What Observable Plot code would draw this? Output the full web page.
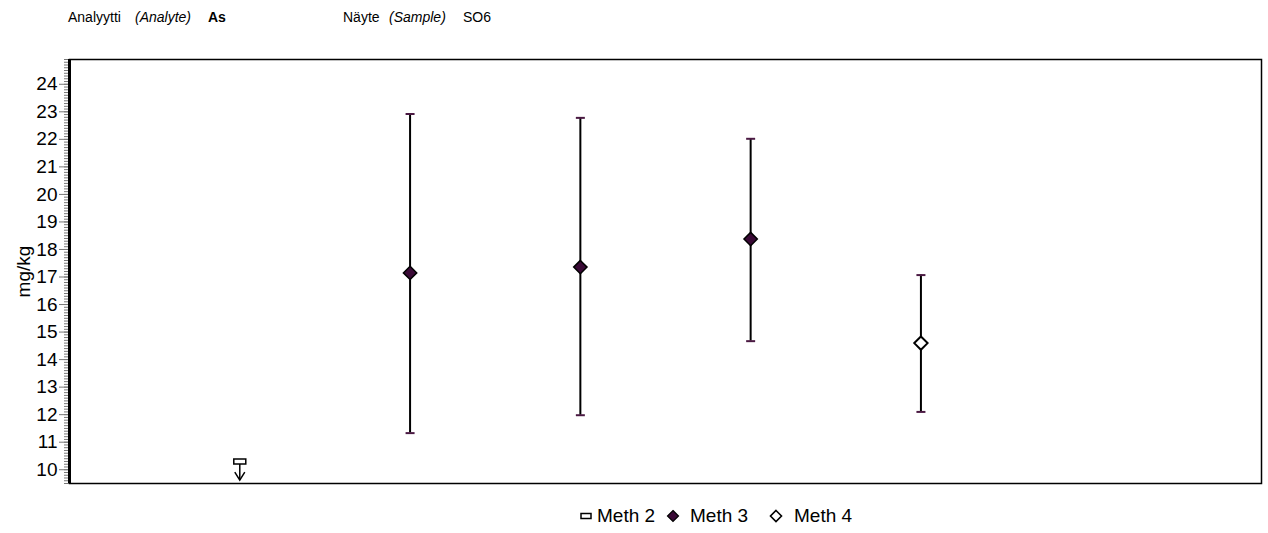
<!DOCTYPE html>
<html>
<head>
<meta charset="utf-8">
<script src="https://cdn.jsdelivr.net/npm/d3@7"></script>
<script src="https://cdn.jsdelivr.net/npm/@observablehq/plot@0.6"></script>
<style>
  html, body { margin: 0; padding: 0; background: white; }
  #wrap { position: relative; width: 1268px; height: 533px; font-family: Arial, "Liberation Sans", sans-serif; color: black; }
  .t { position: absolute; font-size: 14px; line-height: 16px; white-space: nowrap; }
  .lg { position: absolute; font-size: 19px; line-height: 20px; white-space: nowrap; top: 506px; }
  #plot { position: absolute; left: 0; top: 0; }
</style>
</head>
<body>
<div id="wrap">
  <div id="plot"></div>
  <span class="t" style="left:68px;top:9px">Analyytti</span>
  <span class="t" style="left:135px;top:9px;font-style:italic">(Analyte)</span>
  <span class="t" style="left:208px;top:9px;font-weight:bold">As</span>
  <span class="t" style="left:343px;top:9px">Näyte</span>
  <span class="t" style="left:389px;top:9px;font-style:italic">(Sample)</span>
  <span class="t" style="left:463px;top:9px">SO6</span>
  <svg class="lg" style="left:580px;top:511px" width="12" height="10"><rect x="1" y="2.5" width="10" height="5" fill="white" stroke="black" stroke-width="1.5"/></svg>
  <span class="lg" style="left:597px">Meth 2</span>
  <svg class="lg" style="left:666px;top:509px" width="14" height="14"><path d="M7,1.5L12.5,7L7,12.5L1.5,7Z" fill="#3a0a36" stroke="black" stroke-width="1.2"/></svg>
  <span class="lg" style="left:690px">Meth 3</span>
  <svg class="lg" style="left:769px;top:509px" width="14" height="14"><path d="M7,1.5L12.5,7L7,12.5L1.5,7Z" fill="white" stroke="black" stroke-width="1.6"/></svg>
  <span class="lg" style="left:794px">Meth 4</span>
</div>
<script>
// Data
const positions = [1, 2, 3, 4, 5];
const methods   = ["Meth 2", "Meth 3", "Meth 3", "Meth 3", "Meth 4"];
const values    = [10.3, 17.15, 17.36, 18.38, 14.6];
const lowers    = [9.62, 11.33, 11.98, 14.67, 12.1];
const uppers    = [null, 22.92, 22.78, 22.02, 17.07];
const yTicks    = [10, 11, 12, 13, 14, 15, 16, 17, 18, 19, 20, 21, 22, 23, 24];

const rows = positions.map((p, i) => ({pos: p, method: methods[i], value: values[i], lo: lowers[i], hi: uppers[i]}));
const bars = rows.filter(d => d.hi != null);
const lessThan = rows.filter(d => d.hi == null);
const filled = rows.filter(d => d.method === "Meth 3");
const open = rows.filter(d => d.method === "Meth 4");

const minorTicks = d3.range(95, 250).map(d => d / 10);

const capSymbol = {draw(ctx) { ctx.moveTo(-4.5, 0); ctx.lineTo(4.5, 0); }};
const rectSymbol = {draw(ctx) { ctx.rect(-6, -2.5, 12, 5); }};
const arrowHead = {draw(ctx) { ctx.moveTo(-5, -8); ctx.lineTo(0, 0); ctx.lineTo(5, -8); }};

const chart = Plot.plot({
  width: 1268,
  height: 500,
  marginTop: 59,
  marginBottom: 17,
  marginLeft: 69,
  marginRight: 7,
  style: {fontFamily: "Arial, 'Liberation Sans', sans-serif", fontSize: "19px", color: "black", background: "white", overflow: "visible"},
  x: {domain: [0, 7], axis: null},
  y: {domain: [9.5, 24.9]},
  marks: [
    Plot.axisY(minorTicks, {tickSize: 5, tickFormat: () => "", stroke: "#777", label: null}),
    Plot.axisY(yTicks, {tickSize: 10, tickPadding: 2, stroke: "#777", fill: "black", fontSize: 19,
      label: "mg/kg", labelAnchor: "center", labelArrow: "none", labelOffset: 53}),
    Plot.frame({stroke: "black", strokeWidth: 1.5}),
    Plot.ruleX([0], {stroke: "black", strokeWidth: 3}),
    Plot.ruleX(bars, {x: "pos", y1: "lo", y2: "hi", stroke: "black", strokeWidth: 2}),
    Plot.dot(bars, {x: "pos", y: "hi", symbol: capSymbol, stroke: "#4a1942", strokeWidth: 2}),
    Plot.dot(bars, {x: "pos", y: "lo", symbol: capSymbol, stroke: "#4a1942", strokeWidth: 2}),
    Plot.ruleX(lessThan, {x: "pos", y1: "value", y2: "lo", stroke: "black", strokeWidth: 1.5}),
    Plot.dot(lessThan, {x: "pos", y: "lo", symbol: arrowHead, fill: "none", stroke: "black", strokeWidth: 1.5}),
    Plot.dot(lessThan, {x: "pos", y: "value", symbol: rectSymbol, fill: "white", stroke: "black", strokeWidth: 1.5}),
    Plot.dot(filled, {x: "pos", y: "value", symbol: "diamond2", r: 6, fill: "#3a0a36", stroke: "black", strokeWidth: 1.5}),
    Plot.dot(open, {x: "pos", y: "value", symbol: "diamond2", r: 6, fill: "white", stroke: "black", strokeWidth: 2})
  ]
});
document.getElementById("plot").appendChild(chart);
</script>
</body>
</html>
